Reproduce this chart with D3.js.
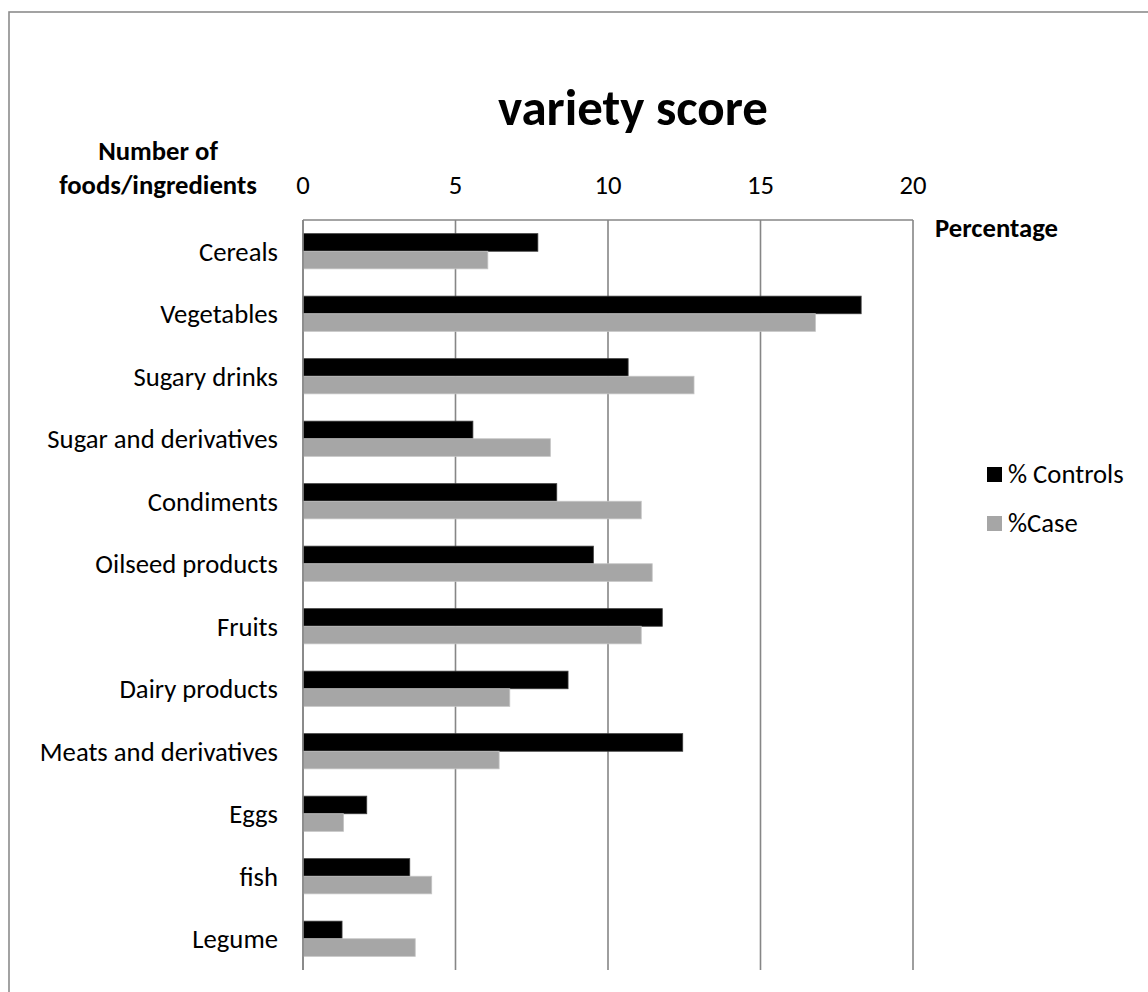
<!DOCTYPE html>
<html>
<head>
<meta charset="utf-8">
<script src="https://cdn.jsdelivr.net/npm/d3@7"></script>
<style>
  html, body { margin: 0; padding: 0; background: #fff; }
  svg { display: block; }
  text { font-family: Carlito, Calibri, Lato, "Liberation Sans", sans-serif; fill: #000; }
</style>
</head>
<body>
<svg id="chart" width="1148" height="992"></svg>
<script>
const categories = ["Cereals", "Vegetables", "Sugary drinks", "Sugar and derivatives", "Condiments",
  "Oilseed products", "Fruits", "Dairy products", "Meats and derivatives", "Eggs", "fish", "Legume"];
const controls = [7.70, 18.30, 10.66, 5.57, 8.32, 9.52, 11.78, 8.69, 12.45, 2.09, 3.50, 1.28];
const cases    = [6.06, 16.80, 12.82, 8.11, 11.09, 11.45, 11.09, 6.78, 6.43, 1.33, 4.22, 3.68];
const seriesNames = ["% Controls", "%Case"];
const xTicks = [0, 5, 10, 15, 20];
const titleText = "variety score";
const yTitleLines = ["Number of", "foods/ingredients"];
const xTitleText = "Percentage";

(function () {
const svg = d3.select("#chart");
const colors = ["#000000", "#a6a6a6"];
const strokes = ["#3a3a3a", "#c4c4c4"];

const pLeft = 303, pRight = 913, pTop = 220, pBottom = 970;
const fs = 26.7;

svg.append("rect").attr("x", 9).attr("y", 12).attr("width", 1200).attr("height", 1100)
  .attr("fill", "none").attr("stroke", "#8c8c8c").attr("stroke-width", 1.6);

const x = d3.scaleLinear().domain([0, 20]).range([pLeft, pRight]);
const y = d3.scaleBand().domain(categories).range([pTop, pBottom]).paddingInner(0.437).paddingOuter(0.2185);
const ySub = d3.scaleBand().domain([0, 1]).range([0, y.bandwidth()]);

svg.append("g").selectAll("line").data(xTicks).join("line")
  .attr("x1", d => x(d)).attr("x2", d => x(d)).attr("y1", pTop).attr("y2", pBottom)
  .attr("stroke", "#868686").attr("stroke-width", 1.6);

svg.append("line").attr("x1", pLeft).attr("x2", pRight).attr("y1", pTop).attr("y2", pTop)
  .attr("stroke", "#868686").attr("stroke-width", 1.6);

const data = [controls, cases];
data.forEach((vals, si) => {
  svg.append("g").selectAll("rect").data(categories).join("rect")
    .attr("x", x(0))
    .attr("y", (c) => y(c) + ySub(si))
    .attr("width", (c, i) => x(vals[i]) - x(0))
    .attr("height", ySub.bandwidth())
    .attr("fill", colors[si])
    .attr("stroke", strokes[si]).attr("stroke-width", 0.8);
});

svg.append("line").attr("x1", pLeft).attr("x2", pLeft).attr("y1", pTop).attr("y2", pBottom)
  .attr("stroke", "#868686").attr("stroke-width", 1.6);

svg.append("g").selectAll("text").data(categories).join("text")
  .attr("x", 278).attr("y", d => y(d) + y.bandwidth() / 2)
  .attr("dy", "0.35em").attr("text-anchor", "end").attr("font-size", fs)
  .text(d => d);

svg.append("g").selectAll("text").data(xTicks).join("text")
  .attr("x", d => x(d)).attr("y", 194).attr("text-anchor", "middle").attr("font-size", fs)
  .text(d => d);

svg.append("text").attr("x", 633).attr("y", 125).attr("text-anchor", "middle")
  .attr("font-size", 51).attr("font-weight", "bold").text(titleText);

svg.append("g").selectAll("text").data(yTitleLines).join("text")
  .attr("x", 158).attr("y", (d, i) => 160 + i * 34).attr("text-anchor", "middle")
  .attr("font-size", fs).attr("font-weight", "bold").text(d => d);

svg.append("text").attr("x", 935).attr("y", 237).attr("font-size", fs)
  .attr("font-weight", "bold").text(xTitleText);

const lg = svg.append("g");
seriesNames.forEach((n, i) => {
  const yy = 474 + i * 49;
  lg.append("rect").attr("x", 987).attr("y", yy - 7).attr("width", 15).attr("height", 15)
    .attr("fill", colors[i]);
  lg.append("text").attr("x", 1008).attr("y", yy).attr("dy", "0.35em").attr("font-size", fs).text(n);
});
})();
</script>
</body>
</html>
